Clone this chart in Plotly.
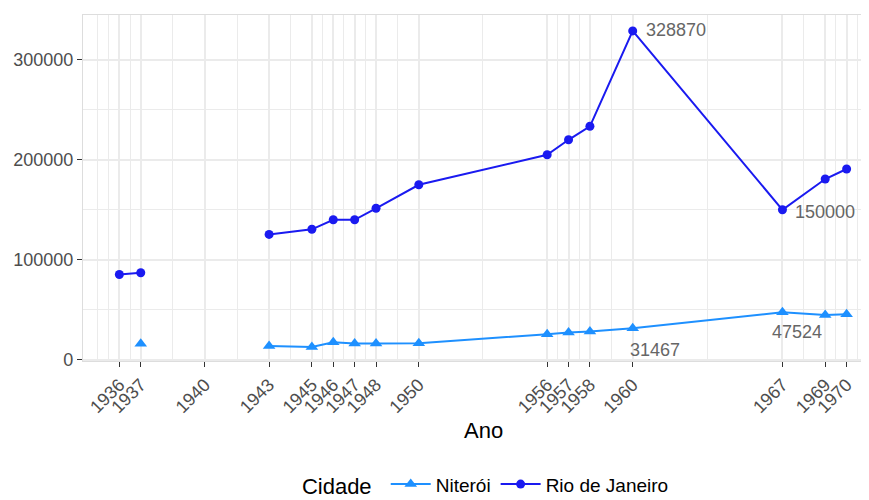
import plotly.graph_objects as go

anos = [1936, 1937, 1940, 1943, 1945, 1946, 1947, 1948, 1950, 1956, 1957, 1958, 1960, 1967, 1969, 1970]
niteroi = [None, 16000, None, 13700, 12900, 17500, 16300, 16400, 16600, 25600, 27300, 28200, 31467, 47524, 44800, 45500]
rio = [85300, 87000, None, 125400, 130500, 140000, 140000, 151500, 175000, 205000, 220000, 233500, 328870, 150000, 180800, 190800]

label_anos_rio = [1960, 1967]
label_anos_nit = [1960, 1967]

y_ticks = [0, 100000, 200000, 300000]

FONT = "Liberation Sans, Arial, sans-serif"
GRID = "#EBEBEB"

fig = go.Figure()
fig.add_trace(go.Scatter(
    x=anos, y=niteroi, name="Niterói", mode="lines+markers",
    line=dict(color="#1E90FF", width=2),
    marker=dict(symbol="triangle-up", size=11, color="#1E90FF"),
    connectgaps=False))
fig.add_trace(go.Scatter(
    x=anos, y=rio, name="Rio de Janeiro", mode="lines+markers",
    line=dict(color="#1A1AF0", width=2),
    marker=dict(symbol="circle", size=9, color="#1A1AF0"),
    connectgaps=False))

# ggplot-style minor breaks (midpoints between breaks, extended one step at ends)
b = [anos[0] - (anos[1] - anos[0])] + anos + [anos[-1] + (anos[1] - anos[0])]
minor_x = []
for a, c in zip(b[:-1], b[1:]):
    minor_x += [a, (a + c) / 2]
minor_x.append(b[-1])
minor_y = [y + 50000 for y in [-100000] + y_ticks]

ann = []
for yr in label_anos_rio:
    v = rio[anos.index(yr)]
    ann.append(dict(x=yr, y=v, text=str(v), showarrow=False, xanchor="left",
                    yanchor="middle", xshift=11, yshift=-2 if yr == 1967 else 1,
                    font=dict(family=FONT, size=18, color="#666666")))
shifts = {1960: (22, -22), 1967: (15, -20)}
for yr in label_anos_nit:
    v = niteroi[anos.index(yr)]
    ann.append(dict(x=yr, y=v, text=str(v), showarrow=False, xanchor="center",
                    yanchor="middle", xshift=shifts[yr][0], yshift=shifts[yr][1],
                    font=dict(family=FONT, size=18, color="#666666")))
ann.append(dict(x=0.5096, y=-0.201, xref="paper", yref="paper", text="Ano",
                showarrow=False, xanchor="center", yanchor="middle",
                font=dict(family=FONT, size=22, color="black")))

fig.update_layout(
    width=861, height=492,
    margin=dict(l=75, r=1, t=7, b=139, pad=0, autoexpand=False),
    paper_bgcolor="white", plot_bgcolor="white",
    font=dict(family=FONT, size=18, color="#4D4D4D"),
    showlegend=True,
    legend=dict(orientation="h", x=0.5145, xanchor="center",
                yref="container", y=0.031, yanchor="middle",
                title=dict(text="Cidade ", side="left", font=dict(size=22, color="black")),
                font=dict(size=19, color="black"), itemwidth=40, tracegroupgap=0),
    annotations=ann,
    xaxis=dict(range=[1934.3, 1971.0], tickmode="array", tickvals=anos,
               ticktext=[str(a) for a in anos], tickangle=-45,
               showgrid=True, gridcolor=GRID, gridwidth=1.6,
               minor=dict(tickvals=minor_x, showgrid=True, gridcolor=GRID, gridwidth=0.8),
               ticks="outside", ticklen=5, tickcolor="#333333", tickwidth=1.2,
               tickfont=dict(size=18, color="#4D4D4D"),
               showline=True, linecolor="#DDDDDD", linewidth=1.2, mirror=True,
               zeroline=False, automargin=False),
    yaxis=dict(range=[-1200, 344800], tickmode="array", tickvals=y_ticks,
               ticktext=[str(v) for v in y_ticks],
               showgrid=True, gridcolor=GRID, gridwidth=1.6,
               minor=dict(tickvals=minor_y, showgrid=True, gridcolor=GRID, gridwidth=0.8),
               ticks="outside", ticklen=5, tickcolor="#333333", tickwidth=1.2,
               tickfont=dict(size=18, color="#4D4D4D"),
               showline=True, linecolor="#DDDDDD", linewidth=1.2, mirror=True,
               zeroline=False, automargin=False),
)

fig.write_html("out.html")
